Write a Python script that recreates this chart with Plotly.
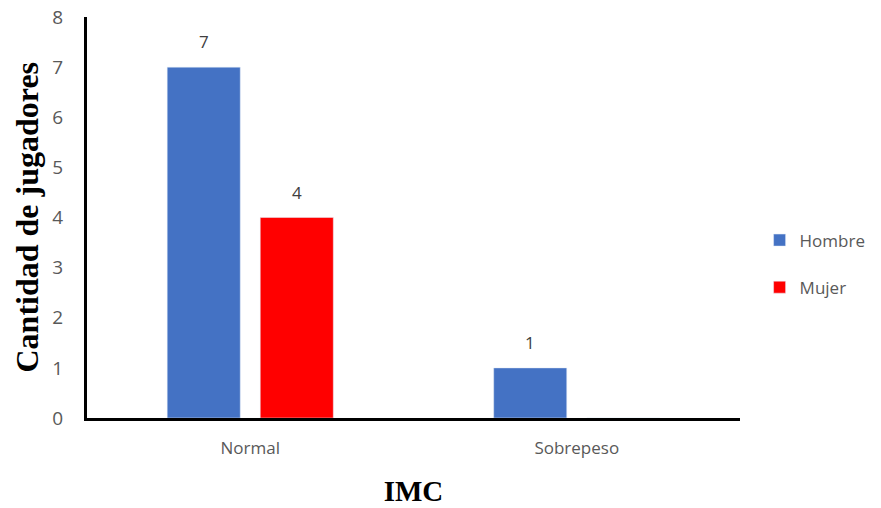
import plotly.graph_objects as go

categories = ["Normal", "Sobrepeso"]
hombre = [7, 1]
mujer = [4, 0]
series_names = ["Hombre", "Mujer"]
colors = ["#4472C4", "#FF0000"]
y_title = "Cantidad de jugadores"
x_title = "IMC"

BARGAP = 0.43
GROUPGAP = 0.215
W, H = 873, 500
ML, MR, MT, MB = 79, 141, 9, 90

fig = go.Figure()
for name, vals, col in zip(series_names, [hombre, mujer], colors):
    fig.add_trace(go.Bar(
        x=categories, y=vals, name=name, marker_color=col,
        legendgroup=name,
    ))

# data labels above the bars (zero values are not labelled)
plot_w = W - ML - MR
slot_px = plot_w / len(categories) * (1 - BARGAP) / len(series_names)
for i, vals in enumerate([hombre, mujer]):
    for cat, v in zip(categories, vals):
        if v:
            fig.add_annotation(
                x=cat, y=v, text=str(v), showarrow=False,
                xshift=(i - (len(series_names) - 1) / 2) * slot_px,
                yanchor="bottom", yshift=12,
                font=dict(family="Open Sans", size=17, color="#404040"),
            )

# y-axis title
fig.add_annotation(
    xref="paper", yref="paper", x=0, y=0.5, xshift=-61,
    xanchor="center", yanchor="middle", textangle=-90,
    text=f"<b>{y_title}</b>", showarrow=False,
    font=dict(family="Liberation Serif", size=32, color="black"),
)

fig.update_layout(
    width=W, height=H,
    margin=dict(l=ML, r=MR, t=MT, b=MB, autoexpand=False),
    plot_bgcolor="white", paper_bgcolor="white",
    barmode="group", bargap=BARGAP, bargroupgap=GROUPGAP,
    font=dict(family="Open Sans", size=15, color="#595959"),
    showlegend=True,
    legend=dict(x=1.03, y=0.384, xanchor="left", yanchor="middle",
                font=dict(family="Open Sans", size=17, color="#595959"),
                tracegroupgap=22, traceorder="grouped",
                itemwidth=30),
)
fig.update_yaxes(
    range=[0, 8], dtick=1, showgrid=False, zeroline=False,
    showline=True, linecolor="black", linewidth=3, automargin=False,
    ticks="", ticklabelstandoff=17, ticklabeloverflow="allow",
    tickfont=dict(family="Open Sans", size=19, color="#595959"),
)
fig.update_xaxes(
    showgrid=False, showline=True, linecolor="black", linewidth=3, automargin=False,
    ticks="", ticklabelstandoff=13, ticklabeloverflow="allow",
    tickfont=dict(family="Open Sans", size=17, color="#595959"),
    title=dict(text=f"<b>{x_title}</b>", standoff=23,
               font=dict(family="Liberation Serif", size=29, color="black")),
)

fig.write_html("out.html")
